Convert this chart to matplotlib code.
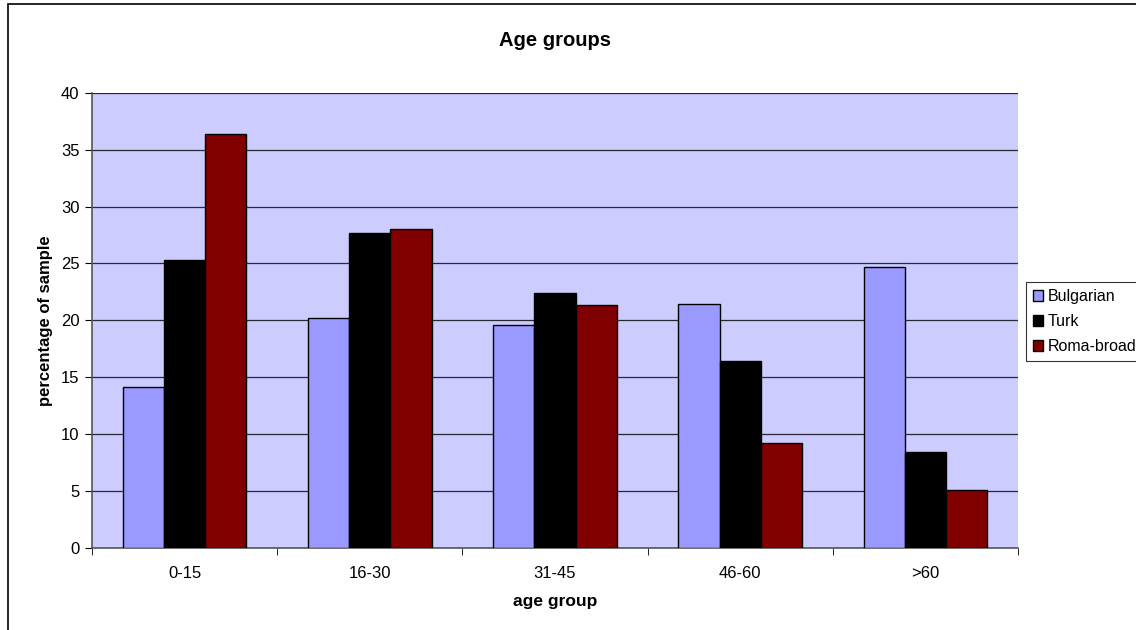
import numpy as np
import matplotlib
matplotlib.use('Agg')
import matplotlib.pyplot as plt
from matplotlib.patches import Rectangle

plt.rcParams['font.family'] = ['Liberation Sans', 'DejaVu Sans']

groups = ['0-15', '16-30', '31-45', '46-60', '>60']
bulgarian = [14.1, 20.2, 19.6, 21.4, 24.7]
turk = [25.3, 27.7, 22.4, 16.4, 8.4]
roma = [36.4, 28.0, 21.3, 9.2, 5.1]

fig = plt.figure(figsize=(11.36, 6.3), dpi=100)
ax = fig.add_axes([92/1136, 82.5/630, 926/1136, 454.5/630])

# chart frame, runs off the right and bottom edges
fig.patches.append(Rectangle((8/1136, -0.2), 1.5, 1.2 - 4/630, transform=fig.transFigure,
                             fill=False, edgecolor='black', linewidth=1.2))

x = np.arange(len(groups))
w = 1 / 4.5
ax.bar(x - w, bulgarian, w, color='#9999FF', edgecolor='black', linewidth=1, label='Bulgarian', zorder=3)
ax.bar(x, turk, w, color='black', edgecolor='black', linewidth=1, label='Turk', zorder=3)
ax.bar(x + w, roma, w, color='#800000', edgecolor='black', linewidth=1, label='Roma-broad', zorder=3)

ax.set_facecolor('#CCCCFF')
ax.set_xlim(-0.5, 4.5)
ax.set_ylim(0, 40)
ax.set_yticks(range(0, 41, 5))
ax.yaxis.grid(True, color='black', linewidth=0.9, alpha=0.8, zorder=1)
ax.set_axisbelow(True)

ax.set_xticks(x)
ax.set_xticklabels(groups)
ax.set_xticks(np.arange(-0.5, 5, 1), minor=True)
ax.tick_params(axis='x', which='major', length=0, pad=13, labelsize=12)
ax.tick_params(axis='x', which='minor', length=5, direction='out', color='black')
ax.tick_params(axis='y', length=5, direction='out', color='black', labelsize=12, pad=4)

for s in ['top', 'right']:
    ax.spines[s].set_visible(False)
for s in ['left', 'bottom']:
    ax.spines[s].set_color('#555555')
    ax.spines[s].set_linewidth(1.2)

ax.set_title('Age groups', fontsize=14.5, fontweight='bold', pad=34)
ax.set_xlabel('age group', fontsize=12.5, fontweight='bold', labelpad=10)
ax.set_ylabel('percentage of sample', fontsize=12, fontweight='bold', labelpad=6)

leg = ax.legend(loc='upper left', bbox_to_anchor=((1025.5 - 92)/926, (547.5 - 282)/454.5),
                fontsize=11.5, frameon=True, fancybox=False, edgecolor='black',
                handlelength=0.65, handleheight=0.65, handletextpad=0.3,
                borderpad=0.45, labelspacing=0.62, borderaxespad=0)
leg.get_frame().set_linewidth(0.8)

fig.savefig('out.png', dpi=100)
